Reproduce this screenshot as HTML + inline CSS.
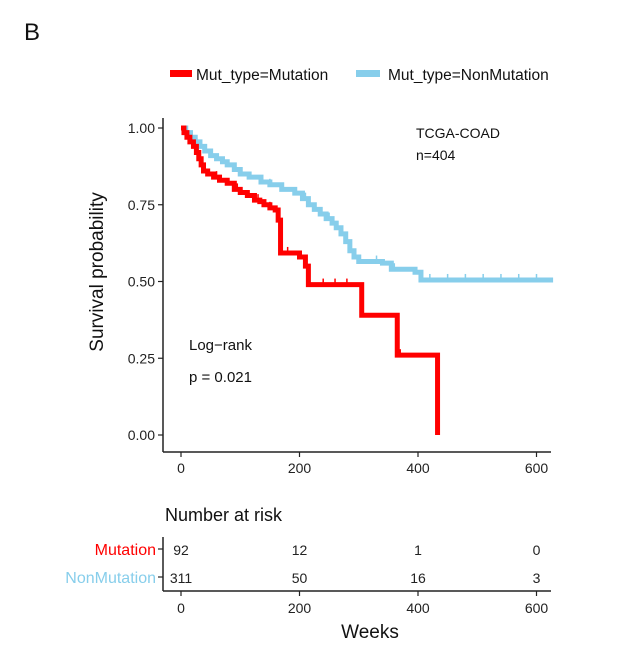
<!DOCTYPE html>
<html><head><meta charset="utf-8"><style>
html,body{margin:0;padding:0;background:#fff;}
svg{display:block;font-family:"Liberation Sans",Arial,sans-serif;}
</style></head><body>
<svg id="chart" width="631" height="653" viewBox="0 0 631 653">
<text x="24" y="40" font-size="24" fill="#111">B</text>
<g>
  <rect x="170" y="70" width="22" height="7" fill="#ff0000"/>
  <text x="196" y="80" font-size="15.5" fill="#111">Mut_type=Mutation</text>
  <rect x="356" y="70" width="24" height="7" fill="#87ceeb"/>
  <text x="388" y="80" font-size="15.5" fill="#111">Mut_type=NonMutation</text>
</g>
<g id="plot"></g>
<text transform="translate(103,272) rotate(-90)" text-anchor="middle" font-size="19" fill="#111">Survival probability</text>
<text x="416" y="138" font-size="14" fill="#111">TCGA-COAD</text>
<text x="416" y="160" font-size="14" fill="#111">n=404</text>
<text x="189" y="350" font-size="15" fill="#111">Log−rank</text>
<text x="189" y="382" font-size="15" fill="#111">p = 0.021</text>
<text x="165" y="521" font-size="18" fill="#111">Number at risk</text>
<text x="156" y="555" font-size="16" fill="#ff0000" text-anchor="end">Mutation</text>
<text x="156" y="583" font-size="16" fill="#87ceeb" text-anchor="end">NonMutation</text>
<g id="risk"></g>
<text x="370" y="638" font-size="19" fill="#111" text-anchor="middle">Weeks</text>
</svg>
<script>
const mutTimes = [0, 5, 10, 15, 21, 26, 30, 34, 38, 45, 55, 65, 78, 90, 100, 112, 124, 133, 140, 150, 159, 164, 168, 200, 210, 215, 305, 365, 433];
const mutSurv  = [1.0, 0.985, 0.97, 0.955, 0.94, 0.92, 0.90, 0.88, 0.86, 0.85, 0.84, 0.83, 0.82, 0.80, 0.79, 0.78, 0.765, 0.76, 0.75, 0.74, 0.733, 0.70, 0.593, 0.58, 0.55, 0.49, 0.39, 0.26, 0.0];
const mutEnd = 433;
const nonTimes = [0, 8, 16, 24, 32, 40, 50, 60, 70, 78, 90, 100, 115, 135, 150, 170, 192, 205, 215, 225, 235, 245, 255, 262, 270, 278, 285, 292, 300, 340, 355, 395, 405];
const nonSurv  = [1.0, 0.985, 0.97, 0.955, 0.94, 0.925, 0.91, 0.90, 0.89, 0.88, 0.865, 0.85, 0.84, 0.824, 0.815, 0.80, 0.788, 0.77, 0.75, 0.735, 0.72, 0.705, 0.69, 0.675, 0.655, 0.63, 0.60, 0.58, 0.565, 0.56, 0.54, 0.53, 0.505];
const nonEnd = 628;
const mutCensor = [60, 95, 130, 150, 180, 200, 240, 260, 280, 370];
const nonCensor = [90, 150, 210, 250, 330, 360, 420, 450, 480, 510, 540, 570, 600];
const yTicks = [0, 0.25, 0.5, 0.75, 1.0];
const yTickLabels = ["0.00", "0.25", "0.50", "0.75", "1.00"];
const xTicks = [0, 200, 400, 600];
const riskMut = [92, 12, 1, 0];
const riskNon = [311, 50, 16, 3];

const NS = "http://www.w3.org/2000/svg";
const x = t => 181 + t * 0.5925;
const y = s => 435 - s * 307;
function mk(tag, attrs, parent){const e=document.createElementNS(NS,tag);for(const k in attrs)e.setAttribute(k,attrs[k]);parent.appendChild(e);return e;}
const plot = document.getElementById('plot');
const risk = document.getElementById('risk');

let a = mk('line',{x1:163,y1:118,x2:163,y2:452,stroke:'#222','stroke-width':1.5},plot);


a = mk('line',{x1:163,y1:452,x2:551,y2:452,stroke:'#222','stroke-width':1.5},plot);


yTicks.forEach((v,i)=>{
  const t = mk('line',{x1:158,y1:y(v),x2:163,y2:y(v),stroke:'#222','stroke-width':1.2},plot);
  
  
  const l = mk('text',{x:155,y:y(v)+5,'font-size':14,'text-anchor':'end',fill:'#222'},plot);
  l.textContent = yTickLabels[i];
  
  
});
xTicks.forEach(v=>{
  const t = mk('line',{x1:x(v),y1:452,x2:x(v),y2:457,stroke:'#222','stroke-width':1.2},plot);
  
  
  const l = mk('text',{x:x(v),y:473,'font-size':14,'text-anchor':'middle',fill:'#222'},plot);
  l.textContent = v;
  
  
});
function stepAt(times,surv,t){let s=surv[0];for(let i=0;i<times.length;i++){if(times[i]<=t)s=surv[i];}return s;}
function curve(times,surv,end,color,name,cens){
  let d = 'M'+x(times[0])+','+y(surv[0]);
  for(let i=1;i<times.length;i++){d+=' H'+x(times[i])+' V'+y(surv[i]);}
  if(surv[surv.length-1]>0) d+=' H'+x(end);
  const p = mk('path',{d:d,fill:'none',stroke:color,'stroke-width':5,'stroke-linejoin':'miter'},plot);
  
  
  cens.forEach(t=>{
    const s = stepAt(times,surv,t);
    const c = mk('line',{x1:x(t),y1:y(s)-6,x2:x(t),y2:y(s)+2,stroke:color,'stroke-width':1.5},plot);
    
    
  });
}
curve(nonTimes,nonSurv,nonEnd,'#87ceeb','curve-nonmutation',nonCensor);
curve(mutTimes,mutSurv,mutEnd,'#ff0000','curve-mutation',mutCensor);

a = mk('line',{x1:163,y1:537,x2:163,y2:591,stroke:'#222','stroke-width':1.5},risk);


a = mk('line',{x1:163,y1:591,x2:551,y2:591,stroke:'#222','stroke-width':1.5},risk);


[549,577].forEach(yy=>{
  const t = mk('line',{x1:158,y1:yy,x2:163,y2:yy,stroke:'#222','stroke-width':1.2},risk);
  
  
});
xTicks.forEach((v,i)=>{
  let l = mk('text',{x:x(v),y:555,'font-size':14,'text-anchor':'middle',fill:'#222'},risk);
  l.textContent = riskMut[i];
  
  
  l = mk('text',{x:x(v),y:583,'font-size':14,'text-anchor':'middle',fill:'#222'},risk);
  l.textContent = riskNon[i];
  
  
  const t = mk('line',{x1:x(v),y1:591,x2:x(v),y2:596,stroke:'#222','stroke-width':1.2},risk);
  
  
  l = mk('text',{x:x(v),y:613,'font-size':14,'text-anchor':'middle',fill:'#222'},risk);
  l.textContent = v;
  
  
});
</script>
</body></html>
